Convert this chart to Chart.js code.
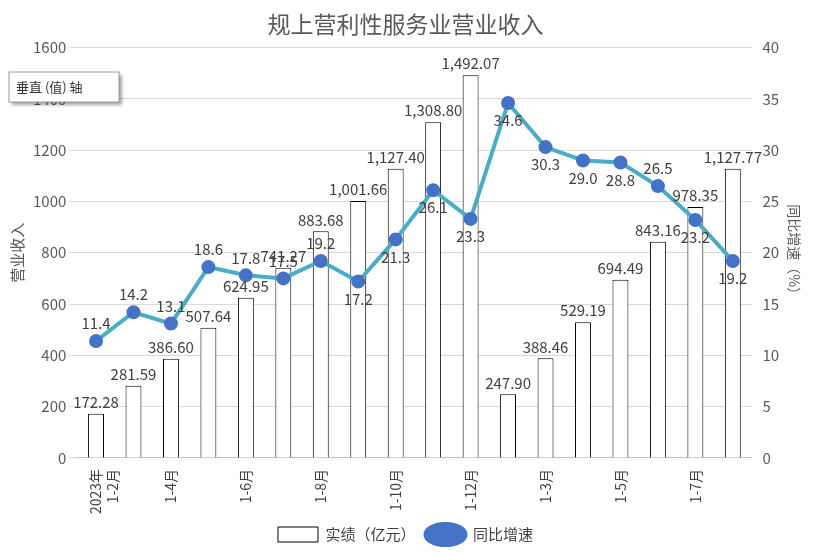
<!DOCTYPE html>
<html><head><meta charset="utf-8">
<script src="https://cdn.jsdelivr.net/npm/chart.js@4"></script>
<style>html,body{margin:0;padding:0;background:#fff}#w{width:817px;height:556px}</style>
</head><body><div id="w"><canvas id="c"></canvas></div>
<script>
const categories=[["2023年","1-2月"],"1-3月","1-4月","1-5月","1-6月","1-7月","1-8月","1-9月","1-10月","1-11月","1-12月","1-2月","1-3月","1-4月","1-5月","1-6月","1-7月","1-8月"];
const revenue=[172.28,281.59,386.60,507.64,624.95,741.27,883.68,1001.66,1127.40,1308.80,1492.07,247.90,388.46,529.19,694.49,843.16,978.35,1127.77];
const growth=[11.4,14.2,13.1,18.6,17.8,17.5,19.2,17.2,21.3,26.1,23.3,34.6,30.3,29.0,28.8,26.5,23.2,19.2];
const growthLabelAbove=[1,1,1,1,1,1,1,0,0,0,0,0,0,0,0,1,0,0];
const F="'Noto Sans CJK SC','DejaVu Sans',sans-serif";
const fmt=v=>v.toLocaleString('en-US',{minimumFractionDigits:2});
const labels={id:'lbl',afterDatasetsDraw(ch){const x=ch.ctx;x.save();x.font="15px "+F;x.fillStyle="#404040";x.textAlign='center';
 ch.getDatasetMeta(0).data.forEach((b,i)=>{x.textBaseline='bottom';x.fillText(fmt(revenue[i]),b.x,b.y-4);});
 ch.getDatasetMeta(1).data.forEach((p,i)=>{const up=growthLabelAbove[i];x.textBaseline=up?'bottom':'top';x.fillText(growth[i].toFixed(1),p.x,up?p.y-10:p.y+10);});
 x.fillStyle='#fff';x.shadowColor='rgba(0,0,0,0.35)';x.shadowOffsetX=3;x.shadowOffsetY=3;x.shadowBlur=3;x.fillRect(9,72,110,30);x.shadowColor='transparent';
 x.strokeStyle='#999';x.strokeRect(9,72,110,30);x.fillStyle='#333';x.font="13px "+F;x.textAlign='left';x.textBaseline='middle';x.fillText('垂直 (值) 轴',16,87);x.restore();}};
new Chart(document.getElementById('c'),{data:{labels:categories,datasets:[
 {type:'bar',label:'实绩（亿元）',data:revenue,backgroundColor:'#fff',borderColor:'#000',borderWidth:1,yAxisID:'y',order:2,categoryPercentage:0.85,barPercentage:0.5,pointStyle:'rect'},
 {type:'line',label:'同比增速',data:growth,borderColor:'#4bacc6',borderWidth:4,pointBackgroundColor:'#4472c4',pointBorderColor:'#4472c4',pointRadius:5,yAxisID:'y1',order:1,pointStyle:'circle'}]},
options:{responsive:true,maintainAspectRatio:false,animation:false,layout:{padding:{left:4,right:10,top:4,bottom:4}},
 plugins:{title:{display:true,text:'规上营利性服务业营业收入',font:{family:F,size:23,weight:'normal'},color:'#595959',padding:{top:6,bottom:10}},
  legend:{position:'bottom',labels:{font:{family:F,size:15},color:'#404040',usePointStyle:true,pointStyleWidth:40,sort:(a,b)=>a.datasetIndex-b.datasetIndex}},tooltip:{enabled:false}},
 scales:{x:{grid:{display:false},border:{color:'#bfbfbf'},ticks:{font:{family:F,size:14},color:'#404040',maxRotation:90,minRotation:90,autoSkip:false,callback:(v,i)=>i%2===0?categories[i]:''}},
  y:{min:0,max:1600,ticks:{stepSize:200,font:{family:F,size:15},color:'#595959',callback:v=>String(v)},grid:{color:'#d9d9d9'},border:{display:false},title:{display:true,text:'营业收入',font:{family:F,size:15},color:'#595959'}},
  y1:{position:'right',min:0,max:40,ticks:{stepSize:5,font:{family:F,size:15},color:'#595959'},grid:{display:false},border:{display:false},title:{display:true,text:'同比增速（%）',font:{family:F,size:14},color:'#595959'}}}},
plugins:[labels]});
</script></body></html>
